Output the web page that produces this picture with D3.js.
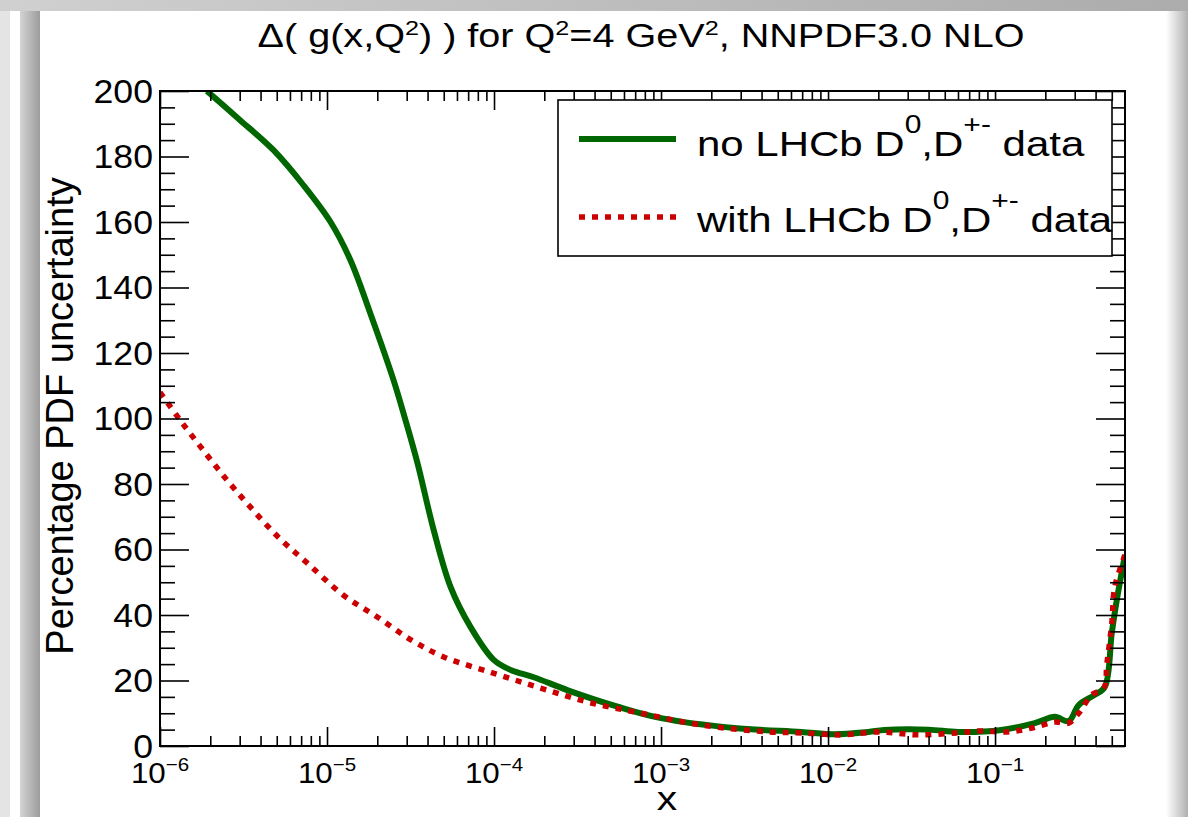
<!DOCTYPE html>
<html>
<head>
<meta charset="utf-8">
<script src="https://cdn.jsdelivr.net/npm/d3@7"></script>
<style>
  body { margin: 0; background: #fff; }
  svg { display: block; font-family: "Liberation Sans", Arial, Helvetica, sans-serif; }
</style>
</head>
<body>
<svg id="chart" width="1188" height="817"></svg>
<script>
/*------------------- data -------------------*/
// x values and percentage uncertainty, fit without LHCb charm data
const xNoLHCb = [1.91e-6, 3.02e-6, 4.77e-6, 7.21e-6, 1.05e-5, 1.38e-5, 1.82e-5, 2.5e-5,
    2.95e-5, 3.48e-5, 4.35e-5, 5.5e-5, 7.24e-5, 9.96e-5, 1.26e-4, 1.73e-4, 2.77e-4, 5.5e-4, 1e-3,
    2.74e-3, 6.9e-3, 1.09e-2, 1.74e-2, 2.17e-2, 4e-2, 6e-2, 0.109, 0.173, 0.228, 0.276, 0.317,
    0.395, 0.454, 0.5, 0.536, 0.6];
const noLHCb = [200, 191.1, 182, 171.3, 160, 148.4, 132, 111.8,
    99.5, 86.4, 66, 48.5, 36.3, 26.3, 23.2, 21, 17, 12, 8.5,
    5.5, 4.3, 3.6, 4.3, 4.9, 5.0, 4.3, 4.9, 7, 8.9, 7.6, 12.5,
    15.6, 18, 34.5, 44.6, 58.3];

// fit with LHCb D0, D+- data
const xWithLHCb = [1e-6, 1.32e-6, 1.81e-6, 2.52e-6, 3.47e-6, 5.1e-6, 7.6e-6, 1.25e-5, 2.0e-5,
    3.16e-5, 5.0e-5, 1.0e-4, 1.9e-4, 3.65e-4, 7.6e-4, 1.74e-3, 4.4e-3, 6.9e-3, 1.2e-2, 2.03e-2,
    3.47e-2, 5.87e-2, 8.3e-2, 0.12, 0.166, 0.228, 0.276, 0.317, 0.379, 0.448, 0.467, 0.5, 0.521, 0.6];
const withLHCb = [108, 99.5, 90.4, 81.2, 73, 63.8, 55.9, 46.1, 39.4,
    32.5, 27.2, 22.2, 17.7, 13.4, 10, 6.4, 4.3, 4.0, 3.4, 4.3,
    3.4, 4.0, 4.6, 4.3, 5.5, 7.3, 7.0, 10, 15.6, 17.7, 25, 37.5, 48.6, 58.3];

// ticks
const xMajor = [1e-6, 1e-5, 1e-4, 1e-3, 1e-2, 1e-1];
const xExponents = ["\u22126", "\u22125", "\u22124", "\u22123", "\u22122", "\u22121"];
const xMinorMult = [2, 3, 4, 5, 6, 7, 8, 9];
const yMajor = [0, 20, 40, 60, 80, 100, 120, 140, 160, 180, 200];
const yMinorStep = 5;

const legendLabels = [
    [["no LHCb D", 0], ["0", 1], [",D", 0], ["+-", 1], [" data", 0]],
    [["with LHCb D", 0], ["0", 1], [",D", 0], ["+-", 1], [" data", 0]]
];
const titleParts = [["\u0394( g(x,Q", 0], ["2", 1], [") ) for Q", 0], ["2", 1], ["=4 GeV", 0], ["2", 1], [", NNPDF3.0 NLO", 0]];

/*------------------- layout -------------------*/
const plot = { left: 160, top: 91, right: 1125, bottom: 746 };
const svg = d3.select("#chart");

// frame with shadow-like borders
const defs = svg.append("defs");
function grad(id, x1, y1, x2, y2, c1, c2) {
    const g = defs.append("linearGradient").attr("id", id)
        .attr("x1", x1).attr("y1", y1).attr("x2", x2).attr("y2", y2);
    g.append("stop").attr("offset", "0%").attr("stop-color", c1);
    g.append("stop").attr("offset", "100%").attr("stop-color", c2);
}
grad("gLeft", 0, 0, 1, 0, "#d4d4d4", "#9c9c9c");
grad("gTop", 0, 0, 1, 0, "#d0d0d0", "#acacac");
grad("gRight", 0, 0, 1, 0, "#ffffff", "#b0b0b0");

svg.append("rect").attr("width", 1188).attr("height", 817).attr("fill", "#fff");
svg.append("rect").attr("x", 0).attr("y", 0).attr("width", 10).attr("height", 817).attr("fill", "#e4e4e4");
svg.append("rect").attr("x", 20).attr("y", 0).attr("width", 20).attr("height", 817).attr("fill", "url(#gLeft)");
svg.append("rect").attr("x", 0).attr("y", 0).attr("width", 1188).attr("height", 11).attr("fill", "url(#gTop)");
svg.append("rect").attr("x", 1166).attr("y", 11).attr("width", 22).attr("height", 806).attr("fill", "url(#gRight)");

defs.append("clipPath").attr("id", "plotClip")
    .append("rect")
    .attr("x", plot.left).attr("y", plot.top)
    .attr("width", plot.right - plot.left).attr("height", plot.bottom - plot.top);

/*------------------- scales -------------------*/
const xScale = d3.scaleLog().domain([1e-6, 0.6]).range([plot.left, plot.right]);
const yScale = d3.scaleLinear().domain([0, 200]).range([plot.bottom, plot.top]);

const xMinor = [];
xMajor.forEach(d => xMinorMult.forEach(m => {
    const v = d * m;
    if (v < 0.6) xMinor.push(v);
}));
const yMinor = d3.range(0, 200 + yMinorStep, yMinorStep).filter(v => v % 20 !== 0);

/*------------------- curves -------------------*/
const line = d3.line()
    .x(d => xScale(d[0]))
    .y(d => yScale(d[1]))
    .curve(d3.curveCatmullRom.alpha(0.5));

const curves = svg.append("g").attr("clip-path", "url(#plotClip)");

curves.append("path")
    .datum(xNoLHCb.map((x, i) => [x, noLHCb[i]]))
    .attr("d", line)
    .attr("fill", "none")
    .attr("stroke", "#006600")
    .attr("stroke-width", 6)
    .attr("stroke-linejoin", "round");

curves.append("path")
    .datum(xWithLHCb.map((x, i) => [x, withLHCb[i]]))
    .attr("d", line)
    .attr("fill", "none")
    .attr("stroke", "#cc0000")
    .attr("stroke-width", 5.5)
    .attr("stroke-dasharray", "6,7");

/*------------------- axes -------------------*/
function styleAxis(g) {
    g.select(".domain").remove();
    g.selectAll(".tick line").attr("stroke", "#000").attr("stroke-width", 1.6);
    g.selectAll(".tick text").remove();
}

// bottom
svg.append("g").attr("transform", `translate(0,${plot.bottom})`)
    .call(d3.axisBottom(xScale).tickValues(xMajor).tickSize(-19).tickFormat(""))
    .call(styleAxis);
svg.append("g").attr("transform", `translate(0,${plot.bottom})`)
    .call(d3.axisBottom(xScale).tickValues(xMinor).tickSize(-10).tickFormat(""))
    .call(styleAxis);
// top
svg.append("g").attr("transform", `translate(0,${plot.top})`)
    .call(d3.axisTop(xScale).tickValues(xMajor).tickSize(-19).tickFormat(""))
    .call(styleAxis);
svg.append("g").attr("transform", `translate(0,${plot.top})`)
    .call(d3.axisTop(xScale).tickValues(xMinor).tickSize(-10).tickFormat(""))
    .call(styleAxis);
// left
svg.append("g").attr("transform", `translate(${plot.left},0)`)
    .call(d3.axisLeft(yScale).tickValues(yMajor).tickSize(-29).tickFormat(""))
    .call(styleAxis);
svg.append("g").attr("transform", `translate(${plot.left},0)`)
    .call(d3.axisLeft(yScale).tickValues(yMinor).tickSize(-15).tickFormat(""))
    .call(styleAxis);
// right
svg.append("g").attr("transform", `translate(${plot.right},0)`)
    .call(d3.axisRight(yScale).tickValues(yMajor).tickSize(-29).tickFormat(""))
    .call(styleAxis);
svg.append("g").attr("transform", `translate(${plot.right},0)`)
    .call(d3.axisRight(yScale).tickValues(yMinor).tickSize(-15).tickFormat(""))
    .call(styleAxis);

svg.append("rect")
    .attr("x", plot.left).attr("y", plot.top)
    .attr("width", plot.right - plot.left).attr("height", plot.bottom - plot.top)
    .attr("fill", "none").attr("stroke", "#000").attr("stroke-width", 2);

// x tick labels: 10^n
svg.append("g").selectAll("text")
    .data(xMajor)
    .enter()
    .append("text")
    .attr("transform", d => `translate(${xScale(d)},783) scale(1.08,1)`)
    .attr("text-anchor", "middle")
    .attr("font-size", 29)
    .each(function (d, i) {
        const t = d3.select(this);
        t.append("tspan").text("10");
        t.append("tspan").attr("font-size", 19).attr("dy", -12).text(xExponents[i]);
    });

// y tick labels
svg.append("g").selectAll("text")
    .data(yMajor)
    .enter()
    .append("text")
    .attr("transform", d => `translate(153,${yScale(d) + 11.5}) scale(1.08,1)`)
    .attr("text-anchor", "end")
    .attr("font-size", 33)
    .text(d => d);

// superscript text helper: the baseline shift is undone on the next piece
function richText(sel, parts, size, supSize, rise) {
    let back = 0;
    parts.forEach(p => {
        const dy = p[1] ? -rise : back;
        sel.append("tspan")
            .attr("font-size", p[1] ? supSize : size)
            .attr("dy", dy)
            .text(p[0]);
        back = p[1] ? rise : 0;
    });
}

// title
const title = svg.append("text")
    .attr("transform", "translate(641,47) scale(1.2,1)")
    .attr("text-anchor", "middle");
richText(title, titleParts, 33, 21, 12);

// axis titles
svg.append("text")
    .attr("transform", "translate(667,810) scale(1.2,1)")
    .attr("text-anchor", "middle")
    .attr("font-size", 34)
    .text("x");

svg.append("text")
    .attr("transform", "translate(73,416) rotate(-90)")
    .attr("text-anchor", "middle")
    .attr("font-size", 38)
    .text("Percentage PDF uncertainty");

/*------------------- legend -------------------*/
const legend = svg.append("g");
legend.append("rect")
    .attr("x", 558).attr("y", 100)
    .attr("width", 554).attr("height", 156)
    .attr("fill", "#fff").attr("stroke", "#000").attr("stroke-width", 1.6);

legend.append("line")
    .attr("x1", 579).attr("x2", 676).attr("y1", 139).attr("y2", 139)
    .attr("stroke", "#006600").attr("stroke-width", 6);
legend.append("line")
    .attr("x1", 579).attr("x2", 676).attr("y1", 217).attr("y2", 217)
    .attr("stroke", "#cc0000").attr("stroke-width", 5.5).attr("stroke-dasharray", "6,7");

[156, 232].forEach((yb, i) => {
    const t = legend.append("text")
        .attr("transform", `translate(697,${yb}) scale(1.2,1)`);
    richText(t, legendLabels[i], 35, 25, 23);
});
</script>
</body>
</html>
